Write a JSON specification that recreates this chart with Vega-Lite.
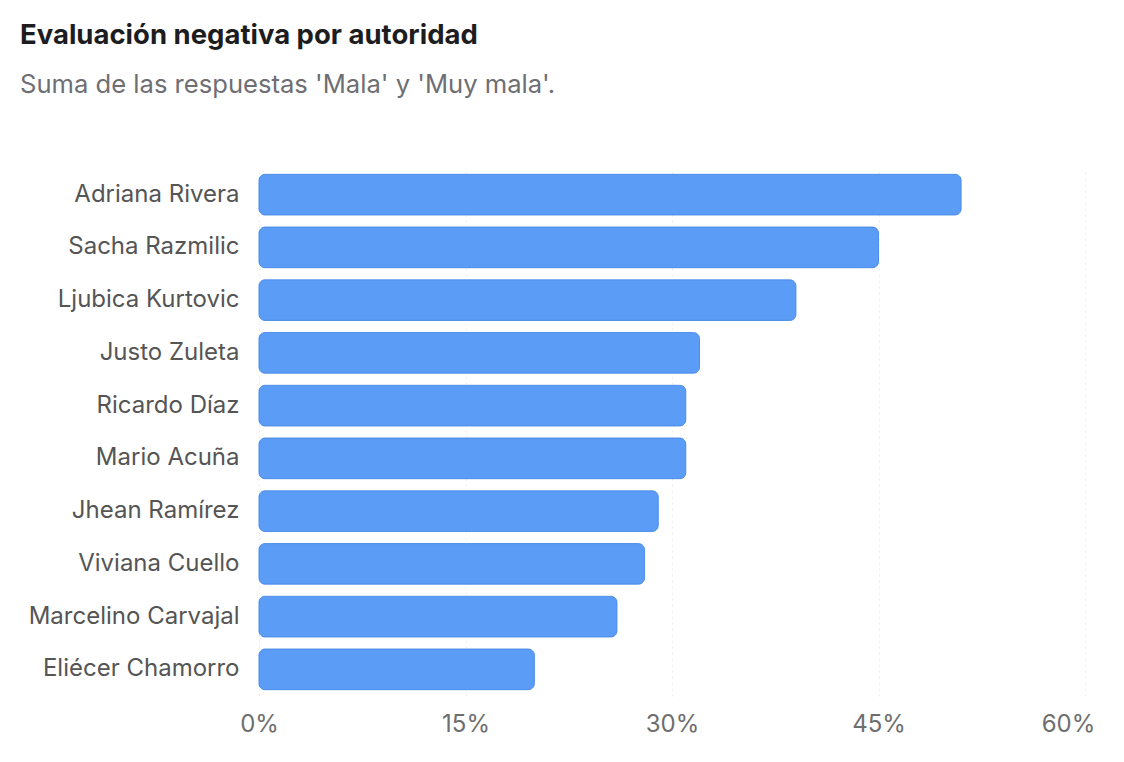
{
  "$schema": "https://vega.github.io/schema/vega-lite/v6.json",
  "autosize": {"type": "none"},
  "width": 826,
  "height": 528,
  "padding": {"left": 259, "top": 168, "right": 39, "bottom": 66},
  "background": "white",
  "title": {
    "text": "Evaluación negativa por autoridad",
    "subtitle": "Suma de las respuestas 'Mala' y 'Muy mala'.",
    "anchor": "start",
    "frame": "group",
    "dx": -239,
    "offset": 69,
    "font": "Inter",
    "fontSize": 27.5,
    "fontWeight": "bold",
    "color": "#1d1d1f",
    "subtitleFont": "Inter",
    "subtitleFontSize": 25.6,
    "subtitleColor": "#6e6e73",
    "subtitlePadding": 24
  },
  "data": {
    "values": [
      {"autoridad": "Adriana Rivera", "valor": 0.51},
      {"autoridad": "Sacha Razmilic", "valor": 0.45},
      {"autoridad": "Ljubica Kurtovic", "valor": 0.39},
      {"autoridad": "Justo Zuleta", "valor": 0.32},
      {"autoridad": "Ricardo Díaz", "valor": 0.31},
      {"autoridad": "Mario Acuña", "valor": 0.31},
      {"autoridad": "Jhean Ramírez", "valor": 0.29},
      {"autoridad": "Viviana Cuello", "valor": 0.28},
      {"autoridad": "Marcelino Carvajal", "valor": 0.26},
      {"autoridad": "Eliécer Chamorro", "valor": 0.20}
    ]
  },
  "mark": {
    "type": "bar",
    "color": "#5b9df6",
    "stroke": "#4f8fe9",
    "strokeWidth": 1,
    "cornerRadius": 6
  },
  "encoding": {
    "y": {
      "field": "autoridad",
      "type": "nominal",
      "sort": null,
      "title": null,
      "scale": {"paddingInner": 0.23, "paddingOuter": 0.12},
      "axis": {
        "domain": false,
        "ticks": false,
        "grid": false,
        "labelPadding": 20,
        "labelLimit": 400,
        "labelFont": "Inter",
        "labelFontSize": 24,
        "labelColor": "#555555"
      }
    },
    "x": {
      "field": "valor",
      "type": "quantitative",
      "title": null,
      "scale": {"domain": [0, 0.6]},
      "axis": {
        "values": [0, 0.15, 0.3, 0.45, 0.6],
        "format": ".0%",
        "domain": false,
        "ticks": false,
        "grid": true,
        "gridColor": "#ececec",
        "gridDash": [2, 4],
        "gridWidth": 1,
        "labelFlush": false,
        "labelOffset": {"condition": {"test": "datum.value == 0.6", "value": -17}, "value": 0},
        "labelPadding": 16,
        "labelFont": "Inter",
        "labelFontSize": 24,
        "labelColor": "#6e6e6e"
      }
    }
  },
  "config": {"view": {"stroke": null}}
}
